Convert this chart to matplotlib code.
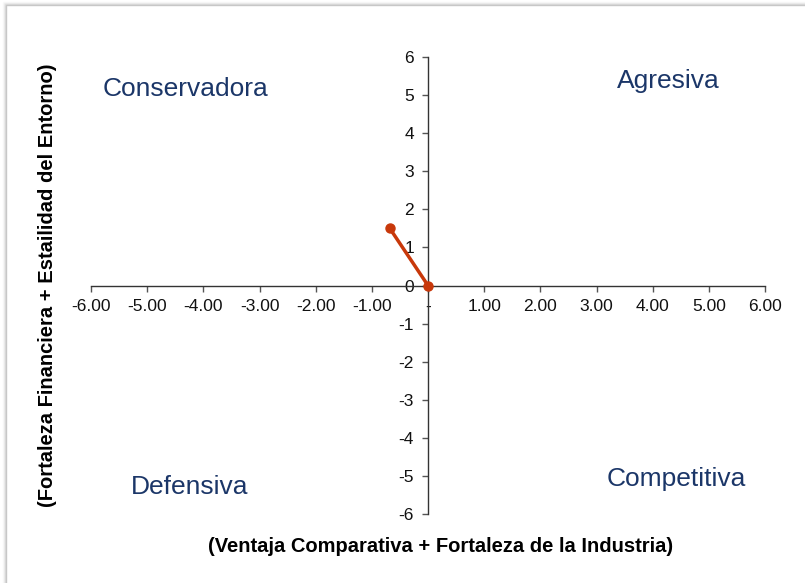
import matplotlib.pyplot as plt
from matplotlib.patches import Rectangle

plt.rcParams['font.family'] = ['Liberation Sans', 'DejaVu Sans']
plt.rcParams['axes.unicode_minus'] = False

# position vector of the company in the SPACE matrix
vec_x = [-0.68, 0.0]
vec_y = [1.5, 0.0]

x_ticks = [-6, -5, -4, -3, -2, -1, 0, 1, 2, 3, 4, 5, 6]
x_labels = ["-6.00", "-5.00", "-4.00", "-3.00", "-2.00", "-1.00", "-",
            "1.00", "2.00", "3.00", "4.00", "5.00", "6.00"]
y_ticks = list(range(-6, 7))

quadrants = ["Conservadora", "Agresiva", "Defensiva", "Competitiva"]
quad_x = [-4.31, 4.27, -4.24, 4.42]
quad_y = [5.15, 5.38, -5.28, -5.09]

W, H = 805, 583
fig = plt.figure(figsize=(W / 100, H / 100), dpi=100)
fig.patch.set_facecolor('white')

# soft frame around the chart area
for i, a in enumerate([0.45, 0.25, 0.12, 0.05]):
    fig.patches.append(Rectangle(((6 - i) / W, -0.05), 1.2, (H - 5 + i) / H + 0.05,
                                 transform=fig.transFigure, fill=False,
                                 edgecolor=(0.55, 0.55, 0.55, a), linewidth=1))

ax = fig.add_axes([91 / W, 69 / H, 674 / W, 457 / H])
ax.set_xlim(-6, 6)
ax.set_ylim(-6, 6)

ax.spines['left'].set_position(('data', 0))
ax.spines['bottom'].set_position(('data', 0))
ax.spines['top'].set_visible(False)
ax.spines['right'].set_visible(False)
for s in ['left', 'bottom']:
    ax.spines[s].set_color('#333333')
    ax.spines[s].set_linewidth(1)

ax.set_xticks(x_ticks)
ax.set_xticklabels(x_labels)
ax.set_yticks(y_ticks)
ax.tick_params(axis='both', direction='out', length=4, width=1,
               color='#555555', labelsize=12.5, labelcolor='#111111', pad=6)

ax.plot(vec_x, vec_y, color='#C8380A', linewidth=2.5, marker='o',
        markersize=6.5, zorder=5, clip_on=False)

for name, qx, qy in zip(quadrants, quad_x, quad_y):
    ax.text(qx, qy, name, ha='center', va='center', fontsize=19,
            color='#1B3668')

fig.text(441 / W, 1 - 547 / H, "(Ventaja Comparativa + Fortaleza de la Industria)",
         ha='center', va='center', fontsize=14.5, fontweight='bold')
fig.text(48 / W, 1 - 285 / H, "(Fortaleza Financiera + Estailidad del Entorno)",
         ha='center', va='center', rotation=90, fontsize=14.5, fontweight='bold')

fig.savefig('out.png', dpi=100)
